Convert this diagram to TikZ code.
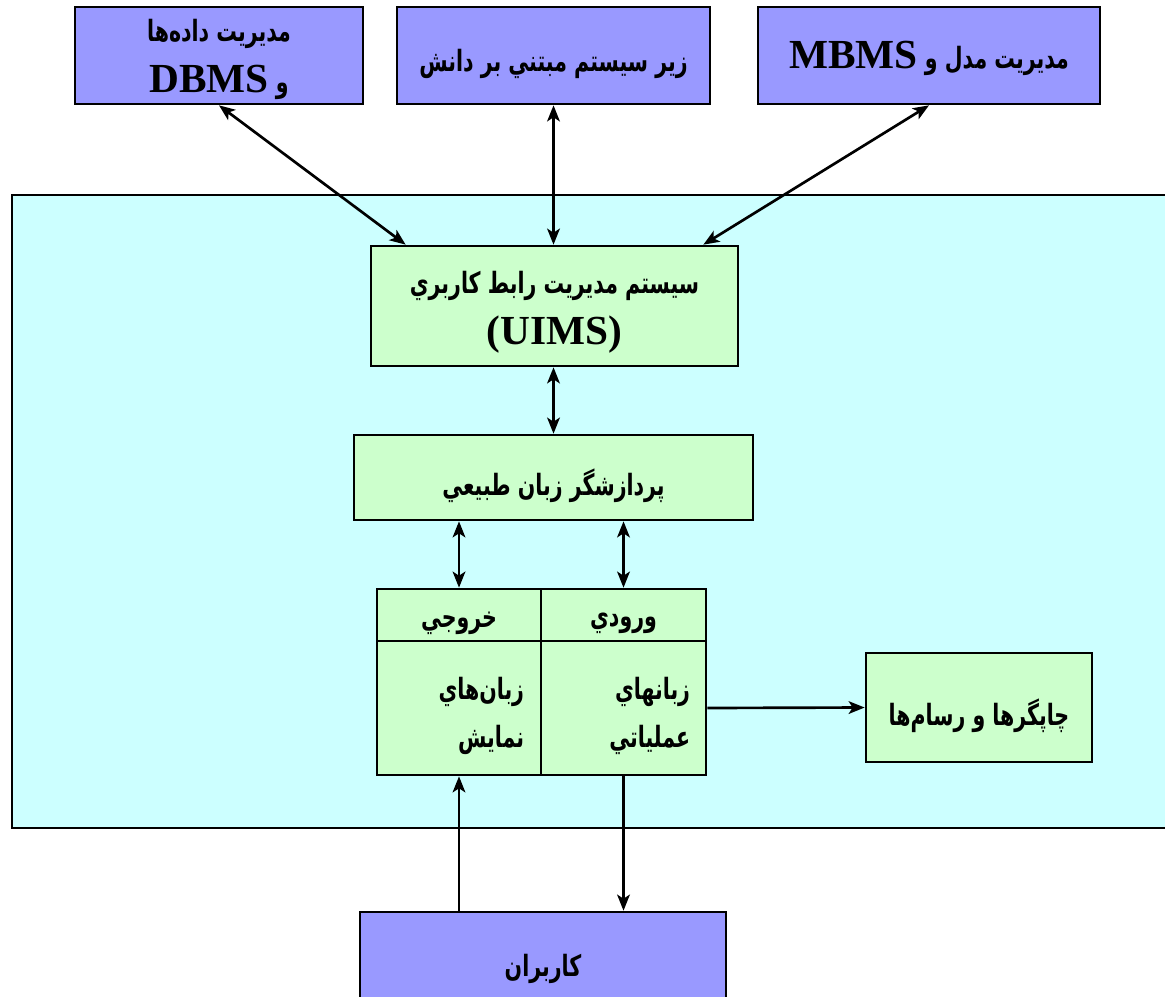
\documentclass[tikz,border=0pt]{standalone}
\usepackage{fontspec}
\setmainfont{Liberation Serif}
\newfontfamily\fa[Script=Arabic, FakeStretch=0.7]{DejaVu Sans}
\TeXXeTstate=1
\usetikzlibrary{arrows.meta,calc}
\definecolor{topblue}{HTML}{9999FF}
\definecolor{panelcyan}{HTML}{CCFFFF}
\definecolor{boxgreen}{HTML}{CCFFCC}
% right-to-left bold Persian text; \rtls draws it a little lower, keeping its box
\newcommand{\rtl}[1]{{\fa\bfseries\beginR #1\endR}}
\newcommand{\rtls}[1]{\raisebox{-6pt}[\height][\depth]{\rtl{#1}}}
\newcommand{\lat}[1]{{\rmfamily\fontsize{31}{34}\selectfont\bfseries #1}}
\tikzset{
  base/.style={draw=black, line width=2pt, inner sep=0pt, align=center,
    font=\fontsize{22}{34}\selectfont},
  bluebox/.style={base, fill=topblue},
  greenbox/.style={base, fill=boxgreen},
  tip/.tip={Stealth[length=12pt,width=9.5pt,inset=3pt]},
  link/.style={line width=2pt, -tip},
  dlink/.style={line width=2pt, tip-tip},
  celltext/.style={anchor=east, align=right, inner sep=0pt,
    font=\fontsize{22}{36}\selectfont},
}
\begin{document}
\begin{tikzpicture}[x=0.75pt, y=-0.75pt]
\useasboundingbox (0,0) rectangle (1165,997);
\begin{scope}
\clip (0,0) rectangle (1165,997);
\fill[white] (0,0) rectangle (1165,997);

% system panel
\draw[fill=panelcyan, line width=2pt] (12,195) rectangle (1180,828);

% external subsystems
\node[bluebox, minimum width=216pt, minimum height=72.75pt] (db) at (219,55.5)
  {\raisebox{-3pt}[\height][\depth]{\rtl{مديريت داده‌ها}}\\[4pt]%
   \raisebox{-3pt}[\height][\depth]{\rtl{و \beginL\lat{DBMS}\endL}}};
\node[bluebox, minimum width=234.75pt, minimum height=72.75pt] (kb) at (553.5,55.5)
  {\rtls{زير سيستم مبتني بر دانش}};
\node[bluebox, minimum width=256.5pt, minimum height=72.75pt] (mb) at (929,55.5)
  {\raisebox{-2pt}[\height][\depth]{\rtl{مديريت مدل و \beginL\lat{MBMS}\endL}}};

% interface management
\node[greenbox, minimum width=275.25pt, minimum height=90pt] (ui) at (554.5,306)
  {\raisebox{-5pt}[\height][\depth]{\rtl{سيستم مديريت رابط کاربري}}\\[5pt]%
   \raisebox{-4pt}[\height][\depth]{\lat{(UIMS)}}};
\node[greenbox, minimum width=299.25pt, minimum height=63.75pt] (nl) at (553.5,477.5)
  {\rtls{پردازشگر زبان طبيعي}};

% input / output table
\node[greenbox, minimum width=123pt, minimum height=39pt] (oh) at (459,615)
  {\rtls{خروجي}};
\node[greenbox, minimum width=123.75pt, minimum height=39pt] (ih) at (623.5,615)
  {\rtls{ورودي}};
\node[greenbox, minimum width=123pt, minimum height=100.5pt] (ob) at (459,708) {};
\node[greenbox, minimum width=123.75pt, minimum height=100.5pt] (ib) at (623.5,708) {};
\node[celltext] (ot) at ($(ob.east)+(-18,8)$) {\rtl{زبان‌هاي}\\\rtl{نمايش}};
\node[celltext] (it) at ($(ib.east)+(-17,8)$) {\rtl{زبانهاي}\\\rtl{عملياتي}};

\node[greenbox, minimum width=169.5pt, minimum height=81.75pt] (pr) at (979,707.5)
  {\rtls{چاپگرها و رسام‌ها}};
\node[bluebox, minimum width=274.5pt, minimum height=73.5pt] (us) at (543,961)
  {\rtls{کاربران}};

% connectors
\draw[dlink] (db.south) -- ($(ui.north west)+(36,0)$);
\draw[dlink] (kb.south) -- (ui.north -| kb.south);
\draw[dlink] (mb.south) -- ($(ui.north east)+(-36,0)$);
\draw[dlink] (ui.south -| nl.north) -- (nl.north);
\draw[dlink] (nl.south -| oh.north) -- (oh.north);
\draw[dlink] (nl.south -| ih.north) -- (ih.north);
\draw[link] (ib.east) -- (pr.west);
\draw[link] (us.north -| ob.south) -- (ob.south);
\draw[link] (ib.south) -- (us.north -| ib.south);
\end{scope}
\end{tikzpicture}
\end{document}
